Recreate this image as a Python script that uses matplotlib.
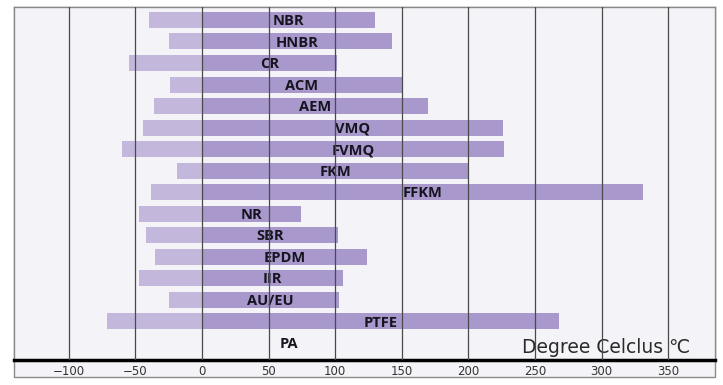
import numpy as np
import matplotlib
matplotlib.use("Agg")
import matplotlib.pyplot as plt
from matplotlib.patches import Rectangle

# temperature ranges (deg C) per material
materials = ["NBR", "HNBR", "CR", "ACM", "AEM", "VMQ", "FVMQ", "FKM", "FFKM",
             "NR", "SBR", "EPDM", "IIR", "AU/EU", "PTFE", "PA"]
low = [-40, -25, -55, -24, -36, -44, -60, -19, -38,
       -47, -42, -35, -47, -25, -71, np.nan]
high = [130, 143, 101, 150, 170, 226, 227, 200, 331,
        74, 102, 124, 106, 103, 268, 130]
ticks = [-100, -50, 0, 50, 100, 150, 200, 250, 300, 350]

W, H = 723, 385
fig = plt.figure(figsize=(W / 100, H / 100), dpi=100)
fig.patch.set_facecolor("white")

# outer frame incl. tick label strip
fig.patches.append(Rectangle((14 / W, 1 - 377 / H), (715 - 14) / W, (377 - 7) / H,
                             transform=fig.transFigure, facecolor="#f4f3f7",
                             edgecolor="#8a8a8a", linewidth=1.0, zorder=-5))

ax = fig.add_axes([14 / W, 1 - 360 / H, (715 - 14) / W, (360 - 7) / H])
ax.set_zorder(2)
ax.set_facecolor("#f4f3f7")
ax.set_xlim(-141, 385)
ax.set_ylim(15.79, -0.6)

y = np.arange(len(materials))
lo = np.array(low, dtype=float)
hi = np.array(high, dtype=float)
ok = ~np.isnan(lo)
h = 0.74
# cold side lighter, warm side darker
ax.barh(y[ok], 0 - lo[ok], left=lo[ok], height=h, color="#c3b8dc", zorder=1)
ax.barh(y[ok], hi[ok], left=0, height=h, color="#a898cb", zorder=1)

for i, name in enumerate(materials):
    ax.text(hi[i] / 2, y[i] + 0.05, name, ha="center", va="center",
            fontsize=10.5, fontweight="bold", family="Open Sans",
            color="#15141f", zorder=2)

for t in ticks:
    ax.axvline(t, color="#4a4a4a", linewidth=0.9, zorder=3)

ax.text(366, 15.45, "Degree Celclus \u2103", ha="right", va="baseline",
        fontsize=13.5, color="#2a2a2a", family="DejaVu Sans", zorder=2)

ax.set_yticks([])
ax.set_xticks(ticks)
ax.set_xticklabels(["\u2212" + str(-t) if t < 0 else str(t) for t in ticks],
                   fontsize=8.5, color="#333333", family="DejaVu Sans")
ax.tick_params(axis="x", length=0, pad=3.5)
for s in ["left", "right", "top"]:
    ax.spines[s].set_color("#8a8a8a")
    ax.spines[s].set_linewidth(1.0)
ax.spines["bottom"].set_linewidth(2.5)
ax.spines["bottom"].set_color("black")

fig.savefig("out.png", dpi=100)
